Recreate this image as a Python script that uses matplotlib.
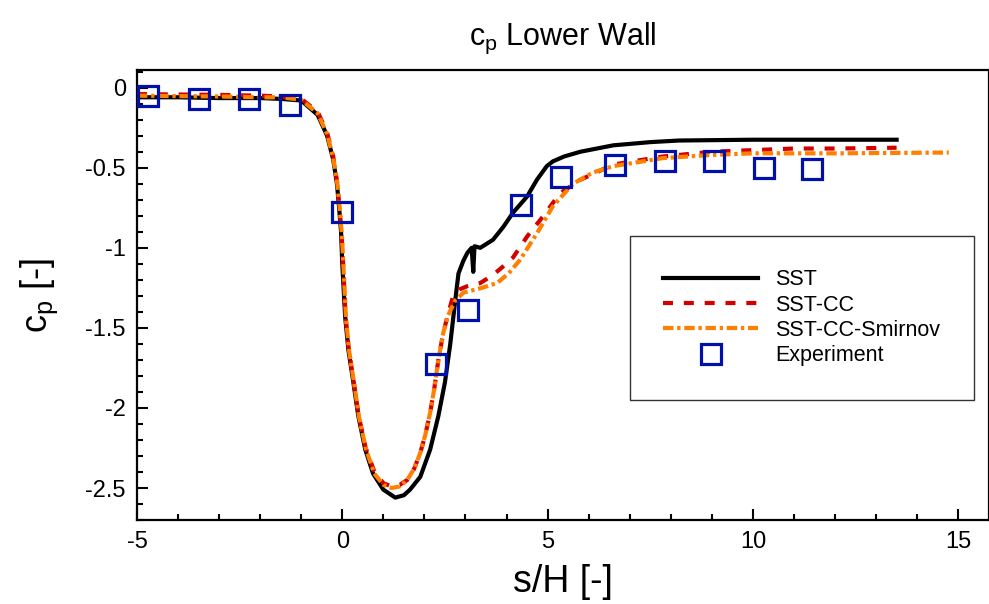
import matplotlib
matplotlib.use("Agg")
import matplotlib.pyplot as plt
from matplotlib.ticker import MultipleLocator, FuncFormatter

plt.rcParams['font.family'] = ['Liberation Sans', 'DejaVu Sans']
plt.rcParams['mathtext.fontset'] = 'custom'
plt.rcParams['mathtext.rm'] = 'Liberation Sans'
plt.rcParams['axes.unicode_minus'] = False

# SST
sst_x = [-5.0, -4.0, -3.0, -2.0, -1.5, -1.0, -0.6, -0.37, -0.22, -0.13, -0.08,
         -0.03, 0.0, 0.07, 0.15, 0.27, 0.39, 0.56, 0.75, 1.0, 1.29, 1.5, 1.65,
         1.9, 2.14, 2.34, 2.5, 2.63, 2.75, 2.83, 2.95, 3.05, 3.15, 3.19, 3.22,
         3.36, 3.67, 3.92, 4.16, 4.5, 4.74, 4.98, 5.13, 5.4, 5.8, 6.6, 7.5,
         8.2, 10.0, 12.0, 13.5]
sst_y = [-0.06, -0.06, -0.065, -0.065, -0.07, -0.08, -0.17, -0.3, -0.45, -0.6,
         -0.74, -0.9, -1.1, -1.43, -1.64, -1.84, -2.05, -2.26, -2.41, -2.51,
         -2.56, -2.545, -2.51, -2.43, -2.26, -2.05, -1.84, -1.6, -1.33, -1.16,
         -1.08, -1.03, -1.0, -1.15, -0.99, -1.0, -0.95, -0.87, -0.78, -0.68,
         -0.575, -0.49, -0.46, -0.43, -0.40, -0.36, -0.34, -0.33, -0.325,
         -0.325, -0.325]

# SST-CC
cc_x = [-5.0, -3.0, -2.0, -1.5, -1.0, -0.6, -0.37, -0.22, -0.12, -0.07, -0.02,
        0.02, 0.08, 0.16, 0.28, 0.4, 0.57, 0.77, 1.0, 1.2, 1.4, 1.58, 1.75,
        1.9, 2.02, 2.14, 2.24, 2.34, 2.46, 2.58, 2.7, 2.85, 3.04, 3.36, 3.67,
        3.9, 4.16, 4.5, 4.9, 5.3, 5.8, 6.6, 7.8, 9.0, 10.0, 11.0, 12.0, 13.5]
cc_y = [-0.04, -0.045, -0.05, -0.055, -0.07, -0.15, -0.28, -0.43, -0.6, -0.75,
        -0.9, -1.1, -1.43, -1.64, -1.84, -2.05, -2.25, -2.39, -2.47, -2.49,
        -2.48, -2.45, -2.38, -2.28, -2.17, -2.03, -1.88, -1.7, -1.53, -1.41,
        -1.3, -1.26, -1.24, -1.22, -1.17, -1.12, -1.06, -0.93, -0.8, -0.66,
        -0.575, -0.48, -0.43, -0.40, -0.39, -0.38, -0.38, -0.375]

# SST-CC-Smirnov
sm_x = [-5.0, -3.0, -2.0, -1.5, -1.0, -0.6, -0.37, -0.22, -0.12, -0.06, -0.01,
        0.03, 0.09, 0.17, 0.29, 0.41, 0.58, 0.78, 1.0, 1.2, 1.4, 1.58, 1.75,
        1.9, 2.02, 2.14, 2.24, 2.34, 2.46, 2.58, 2.75, 2.95, 3.4, 3.77, 4.05,
        4.33, 4.74, 5.13, 5.62, 6.1, 6.6, 7.8, 9.0, 10.0, 12.0, 14.77]
sm_y = [-0.05, -0.055, -0.06, -0.06, -0.075, -0.16, -0.29, -0.44, -0.6, -0.76,
        -0.92, -1.12, -1.44, -1.65, -1.85, -2.06, -2.26, -2.41, -2.48, -2.5,
        -2.49, -2.45, -2.38, -2.28, -2.17, -2.03, -1.88, -1.7, -1.53, -1.42,
        -1.33, -1.28, -1.25, -1.22, -1.16, -1.075, -0.91, -0.74, -0.6, -0.53,
        -0.49, -0.44, -0.42, -0.41, -0.41, -0.405]

# measurements
exp_x = [-4.72, -3.48, -2.26, -1.27, 0.0, 2.29, 3.07, 4.36, 5.33, 6.64, 7.86,
         9.05, 10.27, 11.44]
exp_y = [-0.05, -0.07, -0.07, -0.11, -0.775, -1.725, -1.39, -0.73, -0.56,
         -0.48, -0.46, -0.46, -0.5, -0.51]

fig = plt.figure(figsize=(9.89, 6.04), dpi=100)
ax = fig.add_axes([0.1385, 0.139, 0.8615, 0.745])

ax.plot(sst_x, sst_y, color='black', lw=3.0, solid_joinstyle='round',
        label='SST', zorder=2)
ax.plot(cc_x, cc_y, color='#d40000', lw=3.0, dashes=(2.4, 2.6),
        label='SST-CC', zorder=3)
ax.plot(sm_x, sm_y, color='#ff8000', lw=3.0, dashes=(2.5, 0.9, 0.8, 0.9),
        label='SST-CC-Smirnov', zorder=4)
ax.plot(exp_x, exp_y, ls='none', marker='s', ms=14, mfc='none',
        mec='#0010a8', mew=2.3, label='Experiment', zorder=5)

ax.set_xlim(-5, 15.75)
ax.set_ylim(-2.7, 0.11)
ax.xaxis.set_major_locator(MultipleLocator(5))
ax.xaxis.set_minor_locator(MultipleLocator(1))
ax.yaxis.set_major_locator(MultipleLocator(0.5))
ax.yaxis.set_minor_locator(MultipleLocator(0.1))
ax.xaxis.set_major_formatter(FuncFormatter(lambda v, p: '%g' % v))
ax.yaxis.set_major_formatter(FuncFormatter(lambda v, p: '%g' % v))
ax.tick_params(which='both', direction='in', top=False, right=False,
               labelsize=17, width=1.5, pad=8)
ax.tick_params(which='major', length=8)
ax.tick_params(which='minor', length=4)
for s in ax.spines.values():
    s.set_linewidth(1.6)

ax.set_title(r'c$_\mathrm{p}$ Lower Wall', fontsize=22, pad=18)
ax.set_xlabel('s/H [-]', fontsize=27, labelpad=8)
ax.set_ylabel(r'c$_\mathrm{p}$ [-]', fontsize=26, labelpad=18)

leg = ax.legend(loc='upper left', bbox_to_anchor=(630 / 989, 1 - 236 / 604),
                bbox_transform=fig.transFigure, borderaxespad=0, fontsize=15.5,
                frameon=True, fancybox=False, edgecolor='black',
                handlelength=4.4, handletextpad=0.8, labelspacing=0.2,
                borderpad=1.55, numpoints=1)
leg.get_frame().set_linewidth(1.0)

fig.savefig('out.png', dpi=100)
